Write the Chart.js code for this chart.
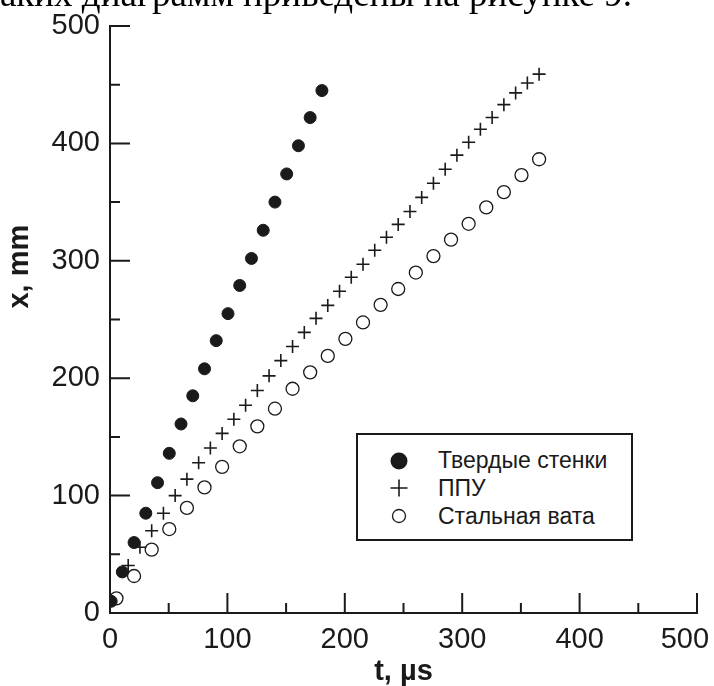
<!DOCTYPE html>
<html>
<head>
<meta charset="utf-8">
<script src="https://cdn.jsdelivr.net/npm/chart.js@4.4.1/dist/chart.umd.min.js"></script>
<style>
  body { margin: 0; background: #fff; }
  #wrap { position: relative; width: 714px; height: 686px; overflow: hidden; }
  #caption {
    position: absolute; right: 82px; top: -25px;
    font: 37px "Liberation Serif", "Times New Roman", serif;
    line-height: 37px; white-space: nowrap; color: #000;
  }
  #legend {
    position: absolute; left: 356px; top: 433px; width: 277px; height: 108px;
    box-sizing: border-box; border: 2px solid #1a1a1a; background: #fff;
  }
  .row {
    position: absolute; left: 0; height: 28px; display: flex; align-items: center;
    font: 23px "Liberation Sans", Arial, sans-serif; color: #1a1a1a;
  }
  .row svg { width: 20px; height: 20px; margin-left: 31px; margin-right: 29px; }
</style>
</head>
<body>
<div id="wrap">
  <canvas id="plot" width="714" height="686"></canvas>
  <div id="caption">таких диаграмм приведены на рисунке 9.</div>
  <div id="legend"></div>
</div>
<script>
// t, µs / x, mm for each wall type
const tSolid = [1, 10.5, 20.5, 30.5, 40.5, 50.5, 60.5, 70.5, 80.5, 90.5, 100.5, 110.5, 120.5, 130.5, 140.5, 150.5, 160.5, 170.5, 180.5];
const xSolid = [10, 35, 60, 85, 111, 136, 161, 185, 208, 232, 255, 279, 302, 326, 350, 374, 398, 422, 445];

const tFoam = [15.5, 25.5, 35.5, 45.5, 55.5, 65.5, 75.5, 85.5, 95.5, 105.5, 115.5, 125.5, 135.5, 145.5, 155.5, 165.5, 175.5, 185.5,
               195.5, 205.5, 215.5, 225.5, 235.5, 245.5, 255.5, 265.5, 275.5, 285.5, 295.5, 305.5, 315.5, 325.5, 335.5, 345.5, 355.5, 365.5];
const xFoam = [40.5, 56, 70, 85, 100, 114, 128, 140.5, 153, 165, 177, 189.5, 202, 215, 227, 239, 251, 262,
               274, 286, 297, 309, 320, 331, 342, 354, 366, 378, 390, 401, 412, 422, 433, 443, 451.5, 459];

const tWool = [5.5, 20.5, 35.5, 50.5, 65.5, 80.5, 95.5, 110.5, 125.5, 140.5, 155.5, 170.5, 185.5,
               200.5, 215.5, 230.5, 245.5, 260.5, 275.5, 290.5, 305.5, 320.5, 335.5, 350.5, 365.5];
const xWool = [12.5, 31.5, 54, 71.5, 89.5, 107, 124.5, 142, 159, 174, 191, 205, 219,
               233.5, 247.5, 262.5, 276, 290, 304, 318, 331.5, 345.5, 358.5, 373, 386.5];

const seriesNames = ['Твердые стенки', 'ППУ', 'Стальная вата'];
const axisTicks = [0, 100, 200, 300, 400, 500];

const INK = '#1a1a1a';
const FONT = '"Liberation Sans", Arial, sans-serif';

const toPoints = (ts, xs) => ts.map((t, i) => ({ x: t, y: xs[i] }));

const markers = [
  { pointStyle: 'circle', radius: 6, backgroundColor: INK, borderColor: INK, borderWidth: 1 },
  { pointStyle: 'cross', radius: 6.5, backgroundColor: INK, borderColor: INK, borderWidth: 1.6 },
  { pointStyle: 'circle', radius: 6.5, backgroundColor: 'rgba(0,0,0,0)', borderColor: INK, borderWidth: 1.3 }
];

const datasets = [
  toPoints(tSolid, xSolid),
  toPoints(tFoam, xFoam),
  toPoints(tWool, xWool)
].map((data, i) => ({
  label: seriesNames[i],
  data,
  showLine: false,
  pointStyle: markers[i].pointStyle,
  pointRadius: markers[i].radius,
  pointHoverRadius: markers[i].radius,
  pointBackgroundColor: markers[i].backgroundColor,
  pointBorderColor: markers[i].borderColor,
  pointBorderWidth: markers[i].borderWidth
}));

// short ticks pointing into the plot: long on 100s, short halfway between
const inwardTicks = {
  id: 'inwardTicks',
  afterDraw(chart) {
    const { ctx, chartArea, scales: { x, y } } = chart;
    ctx.save();
    ctx.strokeStyle = INK;
    ctx.lineWidth = 2;
    ctx.beginPath();
    axisTicks.forEach((v, i) => {
      const marks = [[v, 20]];
      if (i > 0) marks.push([(v + axisTicks[i - 1]) / 2, 10]);
      marks.forEach(([val, len]) => {
        const px = x.getPixelForValue(val);
        ctx.moveTo(px, chartArea.bottom);
        ctx.lineTo(px, chartArea.bottom - len);
        const py = y.getPixelForValue(val);
        ctx.moveTo(chartArea.left, py);
        ctx.lineTo(chartArea.left + len, py);
      });
    });
    ctx.stroke();
    ctx.restore();
  }
};

// vertical axis title, drawn beside the 300 mark
const yTitle = {
  id: 'yTitle',
  afterDraw(chart) {
    const { ctx, scales: { y } } = chart;
    ctx.save();
    ctx.translate(20, y.getPixelForValue(295));
    ctx.rotate(-Math.PI / 2);
    ctx.font = 'bold 29px ' + FONT;
    ctx.fillStyle = INK;
    ctx.textAlign = 'center';
    ctx.textBaseline = 'middle';
    ctx.fillText('x, mm', 0, 0);
    ctx.restore();
  }
};

const axisOptions = (extra) => Object.assign({
  type: 'linear',
  min: axisTicks[0],
  max: axisTicks[axisTicks.length - 1],
  border: { display: true, color: INK, width: 2 },
  grid: { display: true, drawOnChartArea: false, drawTicks: false },
  ticks: {
    stepSize: axisTicks[1] - axisTicks[0],
    color: INK,
    padding: 10,
    font: { family: FONT, size: 29 }
  }
}, extra);

const xAxis = axisOptions({
  position: 'bottom',
  title: {
    display: true,
    text: 't, µs',
    color: INK,
    padding: { top: 0, bottom: 0 },
    font: { family: FONT, size: 29, weight: 'bold', lineHeight: 1 }
  },
  afterFit(scale) {
    scale.height = 73;
    scale.paddingLeft = 0;
    scale.paddingRight = 0;
  }
});
// pull the last label in a little so it stays inside the canvas
xAxis.ticks = Object.assign({}, xAxis.ticks, {
  callback: (value, index, ticks) => index === ticks.length - 1 ? value + '   ' : value
});

new Chart(document.getElementById('plot'), {
  type: 'scatter',
  data: { datasets },
  options: {
    responsive: false,
    animation: false,
    devicePixelRatio: 1,
    layout: { padding: { top: 26, right: 17, bottom: 0, left: 0 } },
    plugins: {
      legend: { display: false },
      tooltip: { enabled: false }
    },
    scales: {
      x: xAxis,
      y: axisOptions({
        position: 'left',
        afterFit(scale) {
          scale.width = 110;
          scale.paddingTop = 0;
          scale.paddingBottom = 0;
        }
      })
    }
  },
  plugins: [inwardTicks, yTitle]
});

// legend box built from the same series names and marker styles
const legend = document.getElementById('legend');
const glyphs = [
  '<circle cx="10" cy="10" r="8.5" fill="' + INK + '"/>',
  '<path d="M10 1.5V18.5M1.5 10H18.5" stroke="' + INK + '" stroke-width="1.6"/>',
  '<circle cx="10" cy="10" r="6.5" fill="none" stroke="' + INK + '" stroke-width="1.3"/>'
];
seriesNames.forEach((name, i) => {
  const row = document.createElement('div');
  row.className = 'row';
  row.style.top = (11.7 + i * 27.7) + 'px';
  row.innerHTML = '<svg viewBox="0 0 20 20">' + glyphs[i] + '</svg><span>' + name + '</span>';
  legend.appendChild(row);
});
</script>
</body>
</html>
